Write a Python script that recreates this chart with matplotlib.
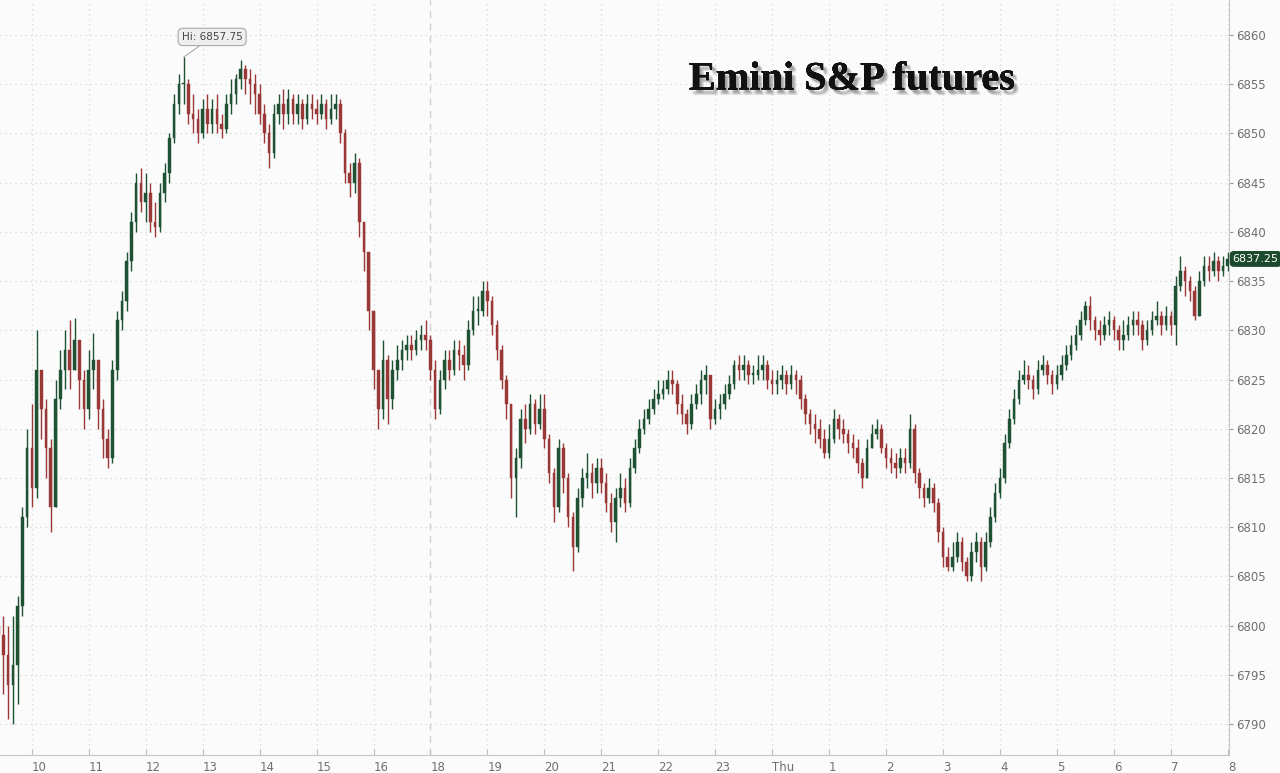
import numpy as np
import matplotlib
matplotlib.use("Agg")
import matplotlib.pyplot as plt
import matplotlib.patheffects as pe

# ---- data: 5-minute candles, trading minutes since 09:25 (17:00-18:00 break removed) ----
first_open = 6800.0
closes = [
 6799, 6797, 6794, 6796, 6802, 6811, 6818, 6814, 6826, 6822,
 6818, 6812, 6823, 6826, 6828, 6826, 6829, 6825, 6822, 6826,
 6827, 6822, 6819, 6817, 6826, 6831, 6833, 6837, 6841, 6845,
 6843, 6844, 6841, 6840.5, 6844, 6846, 6849.5, 6853, 6855, 6855,
 6852, 6851.5, 6850, 6852.5, 6851, 6852.5, 6851, 6850.5, 6853, 6854,
 6855.5, 6856.5, 6855.5, 6855, 6854, 6852, 6850, 6848, 6852, 6853,
 6852, 6853.5, 6852, 6853, 6851.5, 6853, 6852.5, 6852, 6853, 6851.5,
 6852.5, 6853, 6850, 6846, 6845, 6847, 6841, 6838, 6832, 6826,
 6822, 6827, 6823, 6826, 6827, 6828, 6828.5, 6828, 6829, 6829.5,
 6829, 6826, 6822, 6825, 6827, 6826, 6828, 6827.5, 6826.5, 6830,
 6832, 6832, 6834, 6833, 6830.5, 6828, 6825, 6822.5, 6815, 6817,
 6821, 6820, 6822.5, 6820.5, 6822, 6819, 6815.5, 6812, 6818, 6815,
 6811, 6808, 6813, 6815, 6815.5, 6814.5, 6816, 6814.5, 6812.5, 6810.5,
 6813, 6814, 6812.5, 6816, 6818, 6820, 6821, 6822, 6823, 6823.5,
 6824, 6825, 6824.5, 6822.5, 6821.5, 6820.5, 6822.5, 6823.5, 6825, 6825.5,
 6821, 6822, 6822.5, 6823.5, 6824.5, 6826.5, 6826, 6826.5, 6825.5, 6825.5,
 6826, 6826.5, 6825, 6824.5, 6825, 6825.5, 6824.5, 6825.5, 6825, 6823,
 6821.5, 6820.5, 6820, 6819, 6817.5, 6819, 6821, 6820, 6819.5, 6818.5,
 6818, 6816.5, 6815, 6818, 6819.5, 6820, 6818, 6817, 6816.5, 6816,
 6817, 6816.5, 6820, 6815.5, 6814, 6813, 6814, 6812.5, 6809.5, 6807,
 6806, 6807, 6808.5, 6806.5, 6805, 6807.5, 6808.5, 6806, 6808.5, 6811,
 6813.5, 6815, 6818.5, 6821, 6823, 6825, 6825.5, 6825, 6824, 6826,
 6826.5, 6825.5, 6824.5, 6825.5, 6826.5, 6827.5, 6828.5, 6829.5, 6831, 6832.5,
 6831, 6830, 6829.5, 6830.5, 6831, 6830, 6829, 6829.5, 6830.5, 6831,
 6830.5, 6829, 6830, 6831, 6831.5, 6830.5, 6831.5, 6830.5, 6834.5, 6836,
 6835, 6834, 6831.5, 6835, 6836.5, 6836, 6837, 6836, 6836.5, 6837.25,
]
highs = [
 6802, 6801, 6800, 6801, 6803, 6812, 6820, 6822.5, 6830, 6826,
 6823, 6819, 6825, 6828, 6830, 6831, 6831.3, 6829, 6826, 6828,
 6829.7, 6827, 6823, 6820, 6827, 6832, 6834, 6838, 6842, 6846,
 6846.5, 6846, 6845, 6843, 6845, 6847, 6850, 6854, 6856, 6857.75,
 6855.5, 6854, 6852.5, 6853.5, 6854, 6853.5, 6854, 6852, 6854, 6855.5,
 6856, 6857.5, 6857, 6856.5, 6856, 6855, 6853, 6851, 6853, 6854,
 6854.5, 6854.5, 6854, 6854, 6853.5, 6854, 6854, 6853.5, 6854, 6853.5,
 6854, 6854, 6853.5, 6850.5, 6847, 6848, 6847.5, 6841, 6838, 6832,
 6826, 6829, 6827.5, 6827, 6828.5, 6829, 6829.5, 6829.5, 6830, 6830.5,
 6831, 6829.5, 6827, 6826, 6828, 6828, 6829, 6829, 6828.5, 6831,
 6833.5, 6833.5, 6835, 6835, 6833.5, 6831, 6828.5, 6825.5, 6822.5, 6818,
 6822, 6822.5, 6823.5, 6823, 6823.5, 6823.5, 6819.5, 6816, 6819, 6818.5,
 6815.5, 6811.5, 6814, 6816, 6817.5, 6816.5, 6817, 6817, 6815.5, 6813.5,
 6814, 6815.5, 6815, 6817, 6819, 6821, 6822, 6823, 6824, 6825,
 6825, 6826, 6826, 6825, 6823.5, 6822, 6823.5, 6824.5, 6826, 6826.5,
 6825.5, 6823, 6823.5, 6824.5, 6825.5, 6827, 6827.5, 6827.5, 6827, 6826.5,
 6827.5, 6827.5, 6827, 6826, 6826, 6826.5, 6826, 6826.5, 6826, 6825.5,
 6823.5, 6822, 6821.5, 6821, 6820, 6820.5, 6822, 6821.5, 6821, 6820,
 6819.5, 6819, 6817, 6819, 6820.5, 6821, 6820.5, 6818.5, 6818, 6817.5,
 6818, 6818, 6821.5, 6820.5, 6816, 6814.5, 6815, 6814.5, 6813, 6810,
 6808, 6808.5, 6809.5, 6809, 6807, 6808.5, 6809.5, 6809, 6809.5, 6812,
 6814.5, 6816, 6819.5, 6822, 6824, 6826, 6827, 6826.5, 6825.5, 6827,
 6827.5, 6827, 6826, 6826.5, 6827.5, 6828.5, 6829.5, 6830.5, 6832, 6833,
 6833.5, 6831.5, 6831, 6831.5, 6832, 6831.5, 6830.5, 6831, 6831.5, 6832,
 6832, 6831, 6831, 6832, 6833, 6832, 6832.5, 6832, 6835.5, 6837.5,
 6836.5, 6835.5, 6834.5, 6836, 6837.5, 6837.5, 6838, 6837.5, 6837.5, 6838,
]
lows = [
 6796, 6793, 6790.5, 6790, 6792, 6801, 6810, 6812, 6813, 6819,
 6815, 6809.5, 6812, 6822, 6824, 6824, 6826, 6822, 6820, 6821,
 6824, 6820, 6817, 6816, 6816.5, 6825, 6830, 6832, 6836, 6840,
 6842, 6841, 6840, 6839.5, 6840, 6843, 6845, 6849, 6852, 6853,
 6851, 6850, 6849, 6849.5, 6850, 6850, 6850, 6849.5, 6850, 6852,
 6853, 6854.5, 6854, 6853, 6852, 6851, 6849, 6846.5, 6847.5, 6851,
 6850.5, 6851, 6851, 6851, 6850.5, 6851, 6851.5, 6851, 6851.5, 6850.5,
 6851, 6851.5, 6849, 6845, 6843.5, 6844, 6839.5, 6836, 6830, 6824,
 6820, 6821, 6820.5, 6822, 6825, 6826, 6827, 6827, 6827.5, 6828,
 6828, 6825, 6821, 6821.5, 6824, 6825, 6825.5, 6826, 6825, 6826,
 6829.5, 6830.5, 6831.5, 6831.5, 6829.5, 6827, 6824, 6821, 6813, 6811,
 6816, 6818.5, 6819.5, 6819.5, 6820, 6818, 6814.5, 6810.5, 6811.5, 6813.5,
 6810, 6805.5, 6807.5, 6812, 6814, 6813, 6813.5, 6813.5, 6811.5, 6809.5,
 6808.5, 6812, 6811.5, 6812, 6815.5, 6817.5, 6819.5, 6820.5, 6821.5, 6822.5,
 6823, 6823.5, 6823.5, 6821.5, 6820.5, 6819.5, 6820, 6822, 6822.5, 6823.5,
 6820, 6820.5, 6821, 6822, 6823, 6824, 6825, 6825, 6824.5, 6824.5,
 6825, 6825, 6824, 6823.5, 6823.5, 6824, 6823.5, 6824, 6823.5, 6822,
 6820.5, 6819.5, 6818.5, 6818, 6817, 6817, 6818.5, 6819, 6818.5, 6817.5,
 6817, 6815.5, 6814, 6815, 6818, 6819, 6817.5, 6816, 6815.5, 6815,
 6815.5, 6815.5, 6816, 6814.5, 6813, 6812, 6812.5, 6811.5, 6808.5, 6806,
 6805.5, 6805.5, 6806.5, 6805.5, 6804.5, 6804.5, 6806.5, 6804.5, 6805.5, 6808,
 6810.5, 6813, 6814.5, 6818, 6820.5, 6822.5, 6824.5, 6824, 6823, 6823.5,
 6825.5, 6824.5, 6823.5, 6824, 6825, 6826, 6827, 6828, 6829, 6830.5,
 6830, 6829, 6828.5, 6829, 6829.5, 6829, 6828, 6828, 6829, 6829.5,
 6829.5, 6828, 6828.5, 6829.5, 6830.5, 6829.5, 6830, 6829.5, 6828.5, 6834,
 6833.5, 6833, 6831, 6831.5, 6834.5, 6835, 6835.5, 6835, 6835.5, 6836,
]
tick_labels = ["10", "11", "12", "13", "14", "15", "16", "18", "19", "20", "21",
               "22", "23", "Thu", "1", "2", "3", "4", "5", "6", "7", "8"]
tick_minutes = [35, 95, 155, 215, 275, 335, 395, 455, 515, 575, 635,
                695, 755, 815, 875, 935, 995, 1055, 1115, 1175, 1235, 1295]
price_ticks = [6790, 6795, 6800, 6805, 6810, 6815, 6820, 6825, 6830, 6835,
               6840, 6845, 6850, 6855, 6860]
session_break = 455
hi_value = 6857.75
last_value = 6837.25
title_text = "Emini S&P futures"

# ---- drawing ----
c = np.array(closes, dtype=float)
h = np.array(highs, dtype=float)
l = np.array(lows, dtype=float)
o = np.concatenate([[first_open], c[:-1]])
t = np.arange(len(c)) * 5.0

bg = "#fbfbfb"
up_col = "#1f5233"
dn_col = "#9a3838"
ymin, ymax = 6786.85, 6863.56

fig = plt.figure(figsize=(12.8, 7.73), dpi=100, facecolor=bg)
ax = fig.add_axes([0.0, 18 / 773, 1229 / 1280, 755 / 773])
ax.set_facecolor(bg)

ax.set_xlim(1.5, 1296.3)
ax.set_ylim(ymin, ymax)

# grid
for p in price_ticks:
    ax.axhline(p, color="#d6d6d6", lw=0.9, ls=(0, (1, 3)), zorder=0)
for tm in tick_minutes:
    if tm == session_break:
        ax.axvline(tm, color="#d0d0d0", lw=1.0, ls=(0, (5, 4)), zorder=0)
    else:
        ax.axvline(tm, color="#d6d6d6", lw=0.9, ls=(0, (1, 3)), zorder=0)

up = c >= o
cols = np.where(up, up_col, dn_col)
wick_lo = np.minimum(l, np.minimum(o, c))
wick_hi = np.maximum(h, np.maximum(o, c))
ax.vlines(t, wick_lo, wick_hi, colors=cols, lw=1.0, zorder=2)
body_b = np.minimum(o, c)
body_h = np.maximum(np.abs(c - o), 0.15)
ax.bar(t, body_h, bottom=body_b, width=2.7, color=cols, edgecolor=cols,
       lw=0.3, zorder=3)

# axes styling
ax.yaxis.tick_right()
ax.set_yticks(price_ticks)
ax.set_yticklabels([str(p) for p in price_ticks])
ax.tick_params(axis="y", colors="#999999", labelcolor="#707070", labelsize=8.5,
               length=3, width=0.8, pad=2)
ax.set_xticks(tick_minutes)
ax.set_xticklabels(tick_labels)
for lab in ax.get_xticklabels():
    lab.set_horizontalalignment("left")
ax.tick_params(axis="x", colors="#c0c0c0", labelcolor="#707070", labelsize=8.5,
               length=4, width=0.8, direction="in", pad=4)
for side in ["top", "left"]:
    ax.spines[side].set_visible(False)
ax.spines["right"].set_color("#c8c8c8")
ax.spines["bottom"].set_color("#c8c8c8")

# Hi annotation
i_hi = int(np.argmax(h))
ax.annotate(f"Hi: {hi_value:.2f}", xy=(t[i_hi], hi_value), xytext=(t[i_hi] - 2, 6859.3),
            ha="left", va="bottom", fontsize=7.5, color="#444444",
            bbox=dict(boxstyle="round,pad=0.35,rounding_size=0.45", fc="#eeeeee", ec="#aaaaaa", lw=0.8),
            arrowprops=dict(arrowstyle="-", color="#aaaaaa", lw=0.8, shrinkA=0, shrinkB=0),
            zorder=5)

# last price tag
ax.text(1.003, (last_value - ymin) / (ymax - ymin), f"{last_value:.2f}",
        transform=ax.transAxes, ha="left", va="center", fontsize=8, color="white",
        bbox=dict(boxstyle="round,pad=0.2,rounding_size=0.3", fc="#1c4a2c", ec="#1c4a2c"),
        zorder=6, clip_on=False)

# title with soft shadow
shadow = [pe.withSimplePatchShadow(offset=(dx, -dy), shadow_rgbFace="#444444", alpha=0.12)
          for dx, dy in [(1.5, 2.0), (2.5, 3.0), (3.5, 4.0), (2.0, 3.5), (3.0, 2.5)]]
fig.text(852 / 1280, 1 - 80 / 773, title_text, ha="center", va="center",
         fontsize=29, fontweight="bold", family=["Liberation Serif", "DejaVu Serif"],
         color="#111111", path_effects=shadow + [pe.Normal()])

fig.savefig("out.png", dpi=100, facecolor=bg)
